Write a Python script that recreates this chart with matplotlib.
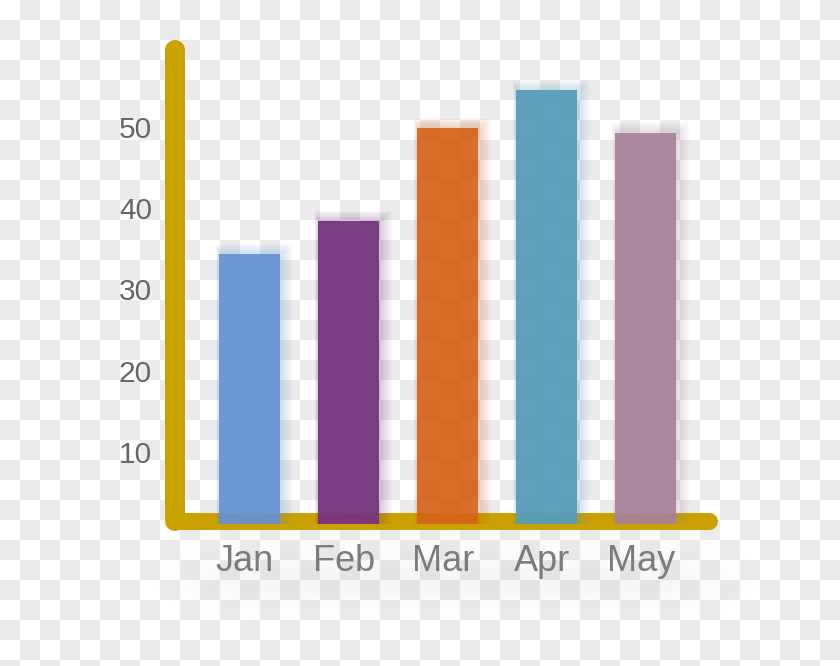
import matplotlib
matplotlib.use('Agg')
import matplotlib.pyplot as plt
import matplotlib.transforms as mtransforms
import numpy as np

# chart data
months = ['Jan', 'Feb', 'Mar', 'Apr', 'May']
values = [33.2, 37.3, 48.7, 53.4, 48.1]
bar_colors = ['#6592d3', '#72327d', '#d6651a', '#559cb9', '#a9829a']
yticks = [10, 20, 30, 40, 50]

W, H = 840, 666
fig = plt.figure(figsize=(W / 100, H / 100), dpi=100)

# background: fake transparency checkerboard + soft shadow, in pixel coords
bg = fig.add_axes([0, 0, 1, 1], zorder=0)
bg.set_xlim(0, W)
bg.set_ylim(H, 0)
bg.axis('off')
rows, cols = np.indices((34, 42))
checker = (rows + cols) % 2
bg.imshow(checker, cmap=matplotlib.colors.ListedColormap(['#ffffff', '#ebebeb']),
          extent=[0, 840, 680, 0], interpolation='nearest', aspect='auto', zorder=0)

yy, xx = np.mgrid[0:H, 0:W]
win = 1 / (1 + np.exp(-(xx - 200) / 20)) / (1 + np.exp((xx - 710) / 20))
shade = np.zeros((H, W, 4))
shade[..., :3] = 0.45
shade[..., 3] = 0.06 * np.exp(-((yy - 578) / 28.0) ** 2) * win
bg.imshow(shade, extent=[0, W, H, 0], aspect='auto', zorder=1)

gold = '#c9a100'
bg.plot([175, 175], [50, 521], color=gold, lw=14.4, solid_capstyle='round', zorder=2)
bg.plot([175, 709], [521, 521], color=gold, lw=12.2, solid_capstyle='round', zorder=2)

# main axes: bottom at the x axis line, left at the y axis line
left_px, bottom_px = 175, 524
ax = fig.add_axes([left_px / W, (H - bottom_px) / H, (W - left_px) / W, bottom_px / H], zorder=1)
ax.patch.set_visible(False)
for s in ax.spines.values():
    s.set_visible(False)

x = np.arange(len(months))
step = 99.1
first_px = 249.4
ax.set_xlim((left_px - first_px) / step, (W - first_px) / step)
ax.set_ylim(0, bottom_px / 8.125)
px_x = 1 / step
px_y = 1 / 8.125
bw = 61 * px_x

# soft glow behind each bar
for k in range(1, 9):
    ax.bar(x + k * 0.6 * px_x, np.array(values) + k * 1.3 * px_y, bw + k * 2 * px_x,
           color=bar_colors, alpha=0.035, linewidth=0, clip_on=False)
ax.bar(x, values, bw, color=bar_colors, alpha=0.92, linewidth=0, clip_on=False)

ax.set_xticks(x)
ax.set_xticklabels(months, fontsize=26, color='#7c7c7c', family='Liberation Sans')
ax.set_yticks(yticks)
ax.set_yticklabels([str(v) for v in yticks], fontsize=21.5, color='#666666',
                   family='Liberation Sans')
ax.tick_params(axis='x', length=0, pad=14.5)
ax.tick_params(axis='y', length=0, pad=16.5)

dx = mtransforms.ScaledTranslation(-4.5 / 100, 0, fig.dpi_scale_trans)
for lbl in ax.get_xticklabels():
    lbl.set_transform(lbl.get_transform() + dx)
dy = mtransforms.ScaledTranslation(0, -9 / 100, fig.dpi_scale_trans)
for lbl in ax.get_yticklabels():
    lbl.set_transform(lbl.get_transform() + dy)

fig.savefig('out.png', dpi=100)
